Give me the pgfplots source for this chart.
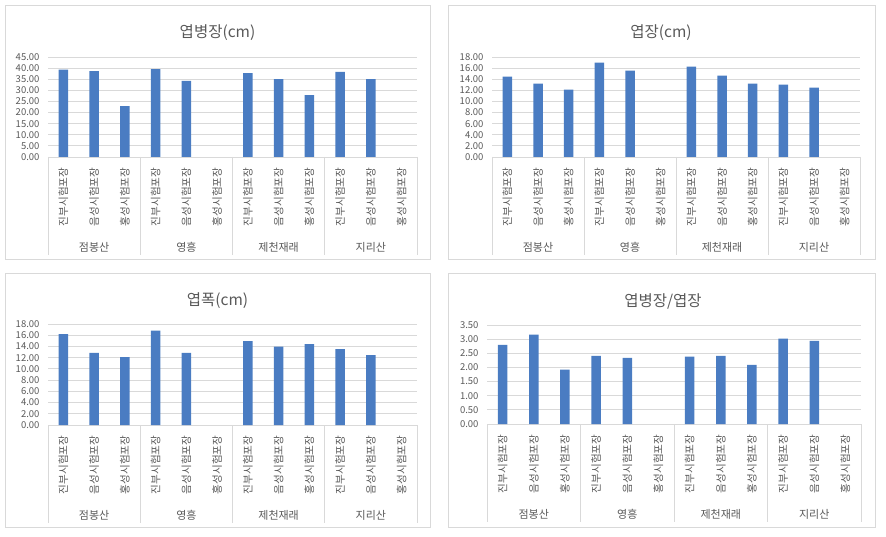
\documentclass[border=0pt]{standalone}
\usepackage{pgfplots}
\pgfplotsset{compat=1.18}
\usepackage{fontspec}
\setmainfont{Noto Sans CJK KR}
\definecolor{barblue}{HTML}{4A7CC2}
\definecolor{txt}{HTML}{595959}
\definecolor{gridc}{HTML}{D9D9D9}
\pgfplotsset{panel/.style={
  scale only axis, ybar, bar width=9.5pt,
  xmin=0.5, xmax=12.5, ymin=0,
  xtick={1,...,12},
  xticklabels={진부시험포장,음성시험포장,홍성시험포장,진부시험포장,음성시험포장,홍성시험포장,진부시험포장,음성시험포장,홍성시험포장,진부시험포장,음성시험포장,홍성시험포장},
  xticklabel style={rotate=90, anchor=east, font=\fontsize{10.6}{12}\selectfont, text=txt},
  xticklabel shift=7pt,
  yticklabel style={font=\fontsize{9.5}{11}\selectfont, text=txt, /pgf/number format/.cd, fixed, fixed zerofill, precision=2},
  /pgf/number format/assume math mode=true,
  yticklabel shift=5pt,
  axis line style={draw=none},
  major tick length=0pt,
  ymajorgrids, grid style={gridc, line width=0.8pt},
  title style={font=\fontsize{15.5}{18}\selectfont, text=txt, anchor=center, at={(0.5,1)}},
  clip=false,
  anchor=south west,
}}
\newcommand{\groups}{%
  \node[font=\fontsize{11}{13}\selectfont, text=txt] at (axis cs:2,0) [yshift=-90pt] {점봉산};
  \node[font=\fontsize{11}{13}\selectfont, text=txt] at (axis cs:5,0) [yshift=-90pt] {영흥};
  \node[font=\fontsize{11}{13}\selectfont, text=txt] at (axis cs:8,0) [yshift=-90pt] {제천재래};
  \node[font=\fontsize{11}{13}\selectfont, text=txt] at (axis cs:11,0) [yshift=-90pt] {지리산};
  \draw[gridc, line width=0.8pt] (axis cs:0.5,0) -- ++(0pt,-98pt);
  \draw[gridc, line width=0.8pt] (axis cs:3.5,0) -- ++(0pt,-98pt);
  \draw[gridc, line width=0.8pt] (axis cs:6.5,0) -- ++(0pt,-98pt);
  \draw[gridc, line width=0.8pt] (axis cs:9.5,0) -- ++(0pt,-98pt);
  \draw[gridc, line width=0.8pt] (axis cs:12.5,0) -- ++(0pt,-98pt);
}
\begin{document}
\begin{tikzpicture}
\path[use as bounding box] (0pt,0pt) rectangle (886pt,536pt);
\draw[gridc, line width=0.8pt] (5pt,277pt) rectangle (430pt,531pt);
\draw[gridc, line width=0.8pt] (448pt,277pt) rectangle (875pt,531pt);
\draw[gridc, line width=0.8pt] (5pt,9pt) rectangle (430pt,263pt);
\draw[gridc, line width=0.8pt] (448pt,9pt) rectangle (875pt,263pt);

% Panel 1
\begin{axis}[panel, at={(48pt,379pt)}, width=369pt, height=100pt,
  ymax=45, ytick={0,5,...,45},
  title={엽병장(cm)}, title style={yshift=18pt, xshift=-15pt}]
\addplot[fill=barblue, draw=none] coordinates {(1,39.3) (2,38.6) (3,22.9) (4,39.6) (5,34.3) (7,37.7) (8,35.0) (9,27.9) (10,38.3) (11,35.0)};
\groups
\end{axis}

% Panel 2
\begin{axis}[panel, at={(492pt,379pt)}, width=368pt, height=100pt,
  ymax=18, ytick={0,2,...,18},
  title={엽장(cm)}, title style={yshift=18pt, xshift=-15pt}]
\addplot[fill=barblue, draw=none] coordinates {(1,14.46) (2,13.2) (3,12.12) (4,16.98) (5,15.54) (7,16.26) (8,14.64) (9,13.2) (10,13.02) (11,12.48)};
\groups
\end{axis}

% Panel 3
\begin{axis}[panel, at={(48pt,111pt)}, width=369pt, height=101pt,
  ymax=18, ytick={0,2,...,18},
  title={엽폭(cm)}, title style={yshift=17pt, xshift=-15pt}]
\addplot[fill=barblue, draw=none] coordinates {(1,16.2) (2,12.87) (3,12.1) (4,16.8) (5,12.87) (7,14.96) (8,13.95) (9,14.42) (10,13.53) (11,12.46)};
\groups
\end{axis}

% Panel 4
\begin{axis}[panel, at={(487pt,112pt)}, width=374pt, height=99pt,
  ymax=3.5, ytick={0,0.5,...,3.5},
  title={엽병장/엽장}, title style={yshift=18pt, xshift=-11pt}]
\addplot[fill=barblue, draw=none] coordinates {(1,2.80) (2,3.16) (3,1.92) (4,2.41) (5,2.34) (7,2.38) (8,2.41) (9,2.09) (10,3.02) (11,2.94)};
\groups
\end{axis}
\end{tikzpicture}
\end{document}
